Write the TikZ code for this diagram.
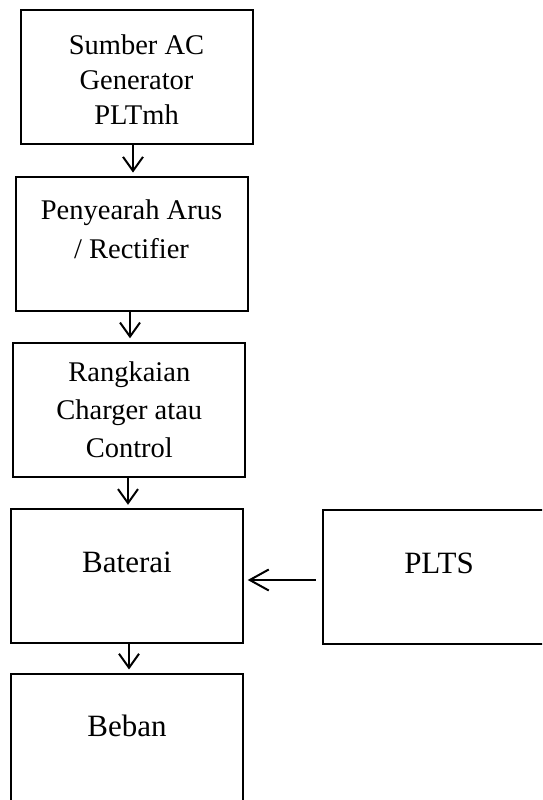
\documentclass[tikz,border=0pt]{standalone}
\usepackage{fontspec}
\setmainfont{Liberation Serif}
\usetikzlibrary{arrows.meta}
\begin{document}
\begin{tikzpicture}[x=1pt,y=1pt,
  box/.style={draw=black,line width=2pt,minimum width=232pt,minimum height=134pt,inner sep=0pt},
  txs/.style={anchor=base,inner sep=0pt,font=\fontsize{28.5}{34}\selectfont},
  txl/.style={anchor=base,inner sep=0pt,font=\fontsize{31}{36}\selectfont},
  varr/.style={line width=2pt,-{Straight Barb[length=14pt,width=20pt,line width=2pt]},shorten >=3.5pt},
  harr/.style={line width=2pt,-{Straight Barb[length=19pt,width=21pt,line width=2pt]},shorten >=3.7pt}]
\useasboundingbox (0,0) rectangle (542,800);
\begin{scope}
\clip (0,0) rectangle (542,800);
\node[box] (b1) at (136.5,722.5) {};
\node[box] (b2) at (131.5,555.9) {};
\node[box] (b3) at (129.3,390.2) {};
\node[box] (b4) at (127,223.7) {};
\node[box] (p) at (439,223) {};
\node[box,minimum height=136pt] (b5) at (127,58) {};
\end{scope}
% texts
\node[txs] (t1a) at (136.5,745) {Sumber AC};
\node[txs] (t1b) at (136.5,710.7) {Generator};
\node[txs] (t1c) at (136.5,675) {PLTmh};
\node[txs] (t2a) at (131.5,580.7) {Penyearah Arus};
\node[txs] (t2b) at (131.5,541.7) {/ Rectifier};
\node[txs] (t3a) at (129.3,418.3) {Rangkaian};
\node[txs] (t3b) at (129.3,380) {Charger atau};
\node[txs] (t3c) at (129.3,342) {Control};
\node[txl] (t4) at (127,227) {Baterai};
\node[txl] (tp) at (439,226.7) {PLTS};
\node[txl] (t5) at (127,63.3) {Beban};
% arrows
\draw[varr] ([xshift=-3.5pt]b1.south) -- ([xshift=-3.5pt]b1.south |- b2.north);
\draw[varr] ([xshift=-1.5pt]b2.south) -- ([xshift=-1.5pt]b2.south |- b3.north);
\draw[varr] ([xshift=-1.3pt]b3.south) -- ([xshift=-1.3pt]b3.south |- b4.north);
\draw[varr] ([xshift=2pt]b4.south) -- ([xshift=2pt]b4.south |- b5.north);
\draw[harr] ([shift={(-6.3pt,-3pt)}]p.west) -- ([yshift=-3.7pt]b4.east);
\end{tikzpicture}
\end{document}
